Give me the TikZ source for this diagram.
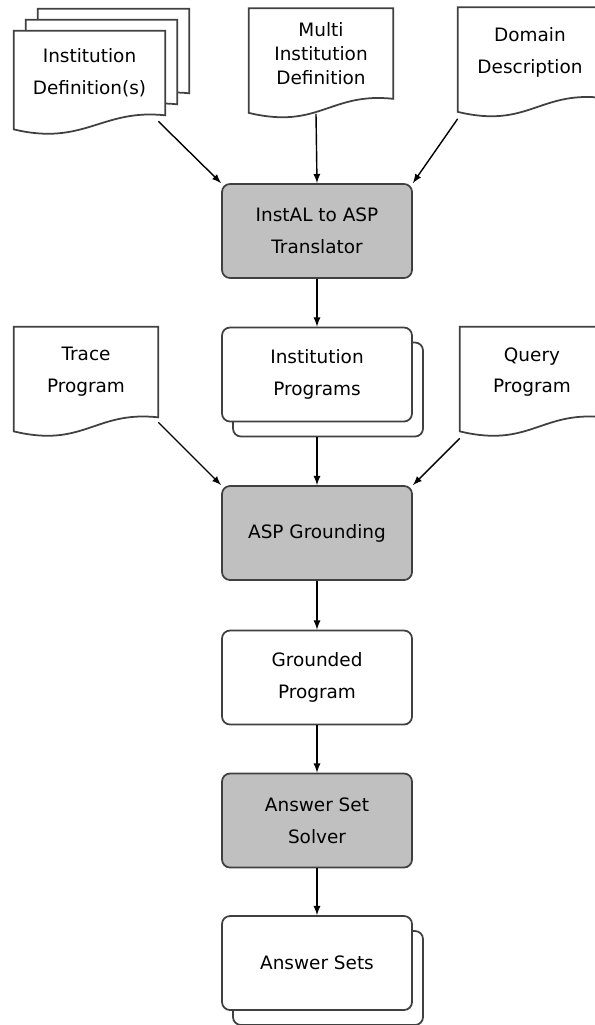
\documentclass[tikz,border=0pt]{standalone}
\usepackage{fontspec}
\setmainfont{DejaVu Sans}
\usepackage{tikz}
\usetikzlibrary{arrows,shapes,positioning,shadows,backgrounds}

\definecolor{boxgray}{RGB}{192,192,192}
\definecolor{linegray}{RGB}{64,64,64}

\tikzset{
  doc/.style={minimum width=2.88cm, minimum height=1.8cm, align=center, inner sep=0pt},
  docline/.style={draw=linegray, line width=1pt, fill=white},
  proc/.style={rectangle, rounded corners=0.16cm, draw=linegray, line width=1pt, fill=boxgray,
    minimum width=3.8cm, minimum height=1.88cm, align=center},
  data/.style={proc, fill=white},
  datastack/.style={data, copy shadow={shadow xshift=0.22cm, shadow yshift=-0.3cm,
    fill=white, draw=linegray, line width=1pt, opacity=1}},
  flow/.style={-latex, line width=0.8pt}
}

% document outline with a wavy bottom edge
\newcommand{\docoutline}[1]{%
  \draw[docline] (#1.north west) -- (#1.north east) -- (#1.south east)
    .. controls +(-1.27,0.14) and +(1.41,-0.34) .. ([yshift=-0.28cm]#1.south west) -- cycle;}

\begin{document}
\begin{tikzpicture}[font=\fontsize{10.5}{18}\selectfont]
\useasboundingbox (0,0) rectangle (11.88,-20.5);

% input documents
\node[doc, minimum width=3.02cm, minimum height=1.68cm] (instdef) at (1.79,-1.46) {Institution\\Definition(s)};
\node[doc, minimum width=3.02cm, minimum height=1.68cm] (instdefb) at (2.03,-1.24) {};
\node[doc, minimum width=3.02cm, minimum height=1.68cm] (instdefc) at (2.27,-1.02) {};
\node[doc, font=\fontsize{10.5}{13.5}\selectfont] (multi) at (6.42,-1.07) {Multi\\Institution\\Definition};
\node[doc] (domain) at (10.6,-1.05) {Domain\\Description};
\node[doc] (trace) at (1.72,-7.44) {Trace\\Program};
\node[doc] (query) at (10.64,-7.44) {Query\\Program};

% processing chain
\node[proc] (trans) at (6.34,-4.62) {InstAL to ASP\\Translator};
\node[datastack] (progs) at (6.34,-7.49) {Institution\\Programs};
\node[proc] (ground) at (6.34,-10.66) {ASP Grounding};
\node[data] (grounded) at (6.34,-13.55) {Grounded\\Program};
\node[proc] (solver) at (6.34,-16.41) {Answer Set\\Solver};
\node[datastack] (answers) at (6.34,-19.26) {Answer Sets};

\begin{pgfonlayer}{background}
\foreach \d in {instdefc,instdefb,instdef,multi,domain,trace,query}
  \docoutline{\d};
\end{pgfonlayer}

% arrows
\draw[flow] ([xshift=-0.14cm,yshift=-0.12cm]instdef.south east) -- (trans.north west);
\draw[flow] ([xshift=-0.1cm,yshift=-0.3cm]multi.south) -- (trans.north);
\draw[flow] ([yshift=-0.42cm]domain.south west) -- (trans.north east);
\draw[flow] (trans) -- (progs);
\draw[flow] ([yshift=-0.3cm]progs.south) -- (ground.north);
\draw[flow] ([yshift=-0.1cm]trace.south east) -- (ground.north west);
\draw[flow] ([yshift=-0.42cm]query.south west) -- (ground.north east);
\draw[flow] (ground) -- (grounded);
\draw[flow] (grounded) -- (solver);
\draw[flow] (solver) -- (answers);
\end{tikzpicture}
\end{document}
